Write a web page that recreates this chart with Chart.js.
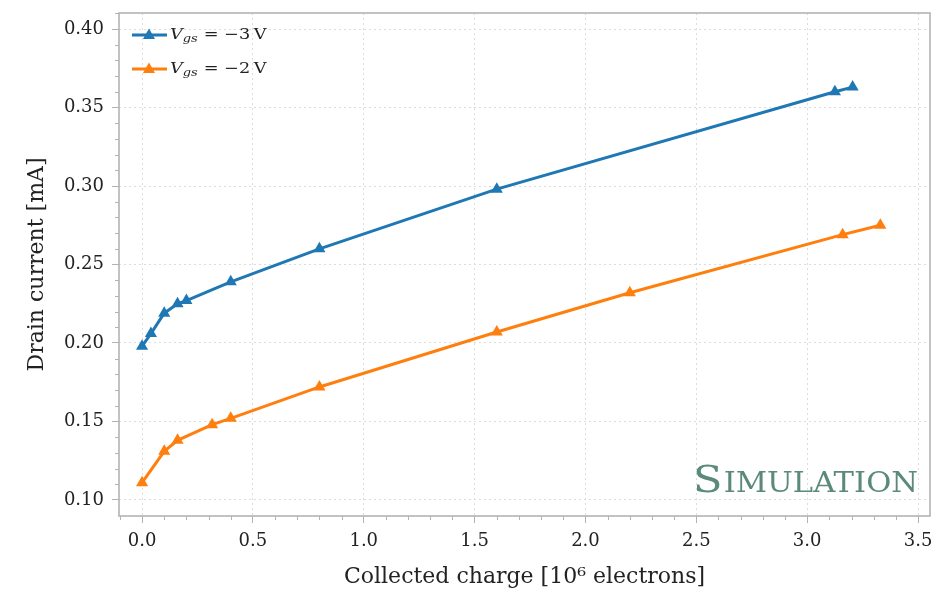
<!DOCTYPE html>
<html>
<head>
<meta charset="utf-8">
<script src="https://cdn.jsdelivr.net/npm/chart.js@4"></script>
<style>
  html, body { margin: 0; padding: 0; background: #fff; }
  #wrap { width: 931px; height: 590px; }
</style>
</head>
<body>
<div id="wrap"><canvas id="chart" width="931" height="590"></canvas></div>
<script>
// data
const chargeVgs3 = [0, 0.04, 0.1, 0.16, 0.2, 0.4, 0.8, 1.6, 3.125, 3.205];
const currentVgs3 = [0.198, 0.206, 0.219, 0.225, 0.227, 0.239, 0.260, 0.298, 0.360, 0.363];
const chargeVgs2 = [0, 0.1, 0.16, 0.316, 0.4, 0.8, 1.6, 2.2, 3.16, 3.33];
const currentVgs2 = [0.111, 0.131, 0.138, 0.148, 0.152, 0.172, 0.207, 0.232, 0.269, 0.275];
const xTicks = [0, 0.5, 1.0, 1.5, 2.0, 2.5, 3.0, 3.5];
const yTicks = [0.10, 0.15, 0.20, 0.25, 0.30, 0.35, 0.40];
const seriesNames = ['\u22123', '\u22122'];

const blue = '#1f77b4';
const orange = '#ff7f0e';
const frameColor = '#b3b3b3';
const serif = '"DejaVu Serif", "Liberation Serif", serif';

const toPoints = (xs, ys) => xs.map((x, i) => ({ x: x, y: ys[i] }));

// frame, minor ticks, legend and watermark
const decor = {
  id: 'decor',
  afterDraw(chart) {
    const ctx = chart.ctx;
    const a = chart.chartArea;
    const xs = chart.scales.x, ys = chart.scales.y;
    ctx.save();
    // minor ticks
    ctx.strokeStyle = frameColor;
    ctx.lineWidth = 1;
    ctx.beginPath();
    for (let i = -1; i <= 35; i++) {
      if (i % 5 === 0) continue;
      const px = Math.round(xs.getPixelForValue(i / 10)) + 0.5;
      if (px < a.left || px > a.right) continue;
      ctx.moveTo(px, a.bottom); ctx.lineTo(px, a.bottom + 4);
    }
    for (let i = 9; i <= 41; i++) {
      if (i % 5 === 0) continue;
      const py = Math.round(ys.getPixelForValue(i / 100)) + 0.5;
      if (py < a.top || py > a.bottom) continue;
      ctx.moveTo(a.left, py); ctx.lineTo(a.left - 4, py);
    }
    ctx.stroke();
    // frame
    ctx.lineWidth = 1.6;
    ctx.strokeStyle = frameColor;
    ctx.strokeRect(a.left, a.top, a.right - a.left, a.bottom - a.top);

    // legend (text is a bit stretched in the original)
    const colors = [blue, orange];
    colors.forEach((c, i) => {
      const y = a.top + 22 + i * 34;
      const x0 = a.left + 13;
      ctx.strokeStyle = c;
      ctx.lineWidth = 3;
      ctx.beginPath();
      ctx.moveTo(x0, y); ctx.lineTo(x0 + 35, y);
      ctx.stroke();
      ctx.fillStyle = c;
      ctx.beginPath();
      ctx.moveTo(x0 + 17, y - 6.5);
      ctx.lineTo(x0 + 23, y + 4);
      ctx.lineTo(x0 + 11, y + 4);
      ctx.closePath();
      ctx.fill();
      ctx.save();
      ctx.translate(x0 + 38, y + 4);
      ctx.scale(1.18, 1);
      ctx.fillStyle = '#222';
      ctx.textBaseline = 'alphabetic';
      ctx.textAlign = 'left';
      let tx = 0;
      ctx.font = 'italic 15px ' + serif;
      ctx.fillText('V', tx, 0);
      tx += ctx.measureText('V').width;
      ctx.font = 'italic 11px ' + serif;
      ctx.fillText('gs', tx, 3);
      tx += ctx.measureText('gs').width + 5;
      ctx.font = '15px ' + serif;
      ctx.fillText('= ' + seriesNames[i] + '\u2009V', tx, 0);
      ctx.restore();
    });

    // watermark
    ctx.fillStyle = '#5b8a7b';
    ctx.textAlign = 'left';
    ctx.textBaseline = 'alphabetic';
    const rest = 'IMULATION';
    ctx.font = '27px ' + serif;
    const wRest = ctx.measureText(rest).width;
    ctx.font = '38px ' + serif;
    const wS = ctx.measureText('S').width;
    const wTotal = 225;
    ctx.translate(918 - wTotal, 492);
    ctx.scale(wTotal / (wS + wRest + 1), 1);
    ctx.fillText('S', 0, 0);
    ctx.font = '27px ' + serif;
    ctx.fillText(rest, wS + 1, 0);
    ctx.restore();
  }
};

const ds = (label, xs, ys, c) => ({
  label: label,
  data: toPoints(xs, ys),
  borderColor: c,
  backgroundColor: c,
  borderWidth: 3,
  pointStyle: 'triangle',
  pointRadius: 7,
  pointHoverRadius: 7,
  pointBorderWidth: 0,
  tension: 0
});

new Chart(document.getElementById('chart'), {
  type: 'line',
  data: {
    datasets: [
      ds('Vgs = -3 V', chargeVgs3, currentVgs3, blue),
      ds('Vgs = -2 V', chargeVgs2, currentVgs2, orange)
    ]
  },
  options: {
    responsive: false,
    animation: false,
    layout: { autoPadding: false, padding: { top: 13, right: 1, left: 0, bottom: 0 } },
    plugins: { legend: { display: false }, tooltip: { enabled: false } },
    scales: {
      x: {
        type: 'linear',
        min: -0.104,
        max: 3.554,
        afterBuildTicks: s => { s.ticks = xTicks.map(v => ({ value: v })); },
        afterFit: s => { s.height = 74; s.paddingLeft = 0; s.paddingRight = 0; },
        grid: { color: '#dcdcdc', lineWidth: 1, tickColor: frameColor, tickLength: 7, tickWidth: 1 },
        border: { display: false, dash: [2, 3] },
        ticks: {
          color: '#222',
          padding: 8,
          maxRotation: 0,
          font: { family: serif, size: 18 },
          callback: v => v.toFixed(1)
        },
        title: {
          display: true,
          text: 'Collected charge [10\u2076 electrons]',
          color: '#222',
          font: { family: serif, size: 22 },
          padding: { top: 0, bottom: 0 }
        }
      },
      y: {
        type: 'linear',
        min: 0.0898,
        max: 0.4102,
        afterBuildTicks: s => { s.ticks = yTicks.map(v => ({ value: v })); },
        afterFit: s => { s.width = 119; s.paddingTop = 0; s.paddingBottom = 0; },
        grid: { color: '#dcdcdc', lineWidth: 1, tickColor: frameColor, tickLength: 7, tickWidth: 1 },
        border: { display: false, dash: [2, 3] },
        ticks: {
          color: '#222',
          padding: 8,
          font: { family: serif, size: 18 },
          callback: v => v.toFixed(2)
        },
        title: {
          display: true,
          text: 'Drain current [mA]',
          color: '#222',
          font: { family: serif, size: 22 },
          padding: { top: 24, bottom: 0 }
        }
      }
    }
  },
  plugins: [decor]
});
</script>
</body>
</html>
